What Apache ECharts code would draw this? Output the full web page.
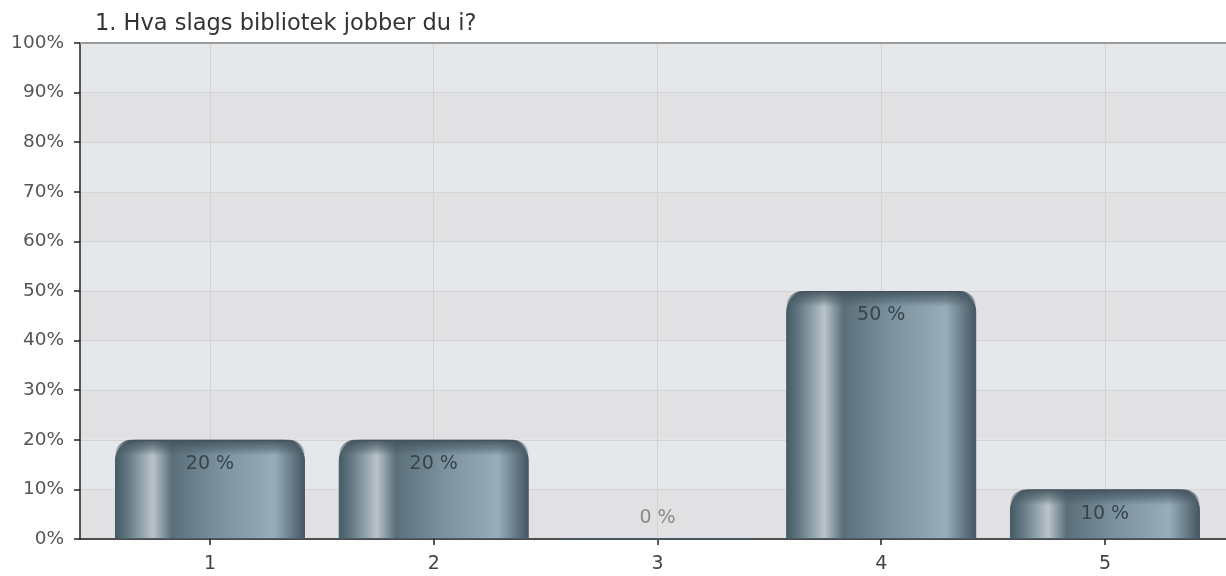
<!DOCTYPE html>
<html><head><meta charset="utf-8">
<script src="https://cdn.jsdelivr.net/npm/echarts@6/dist/echarts.min.js"></script>
<style>html,body{margin:0;padding:0;background:#fff}#c{width:1226px;height:576px}</style>
</head><body><div id="c"></div>
<script>
const title = '1. Hva slags bibliotek jobber du i?';
const categories = [1, 2, 3, 4, 5];
const values = [20, 20, 0, 50, 10];
const yTicks = [0, 10, 20, 30, 40, 50, 60, 70, 80, 90, 100];

const chart = echarts.init(document.getElementById('c'), null, {renderer: 'canvas'});
const font = 'DejaVu Sans, sans-serif';
const BAR_W = 190;
const barGrad = new echarts.graphic.LinearGradient(0, 0, 1, 0, [
  {offset: 0, color: '#465965'},
  {offset: 0.06, color: '#5f7580'},
  {offset: 0.2, color: '#b9c4c9'},
  {offset: 0.3, color: '#5a6f7a'},
  {offset: 0.55, color: '#7b929e'},
  {offset: 0.84, color: '#97adb9'},
  {offset: 0.95, color: '#5d717c'},
  {offset: 1, color: '#435560'}
]);
const seriesData = categories.map((c, i) => [c, values[i]]);
chart.setOption({
  animation: false,
  title: {text: title, left: 90, top: 8, textStyle: {fontFamily: font, fontSize: 22.5, fontWeight: 'normal', color: '#333'}},
  grid: {left: 80, right: 0, top: 43, bottom: 37, show: false},
  xAxis: {
    type: 'value', min: 0.419, max: 5.541,
    axisLine: {show: true, onZero: false, lineStyle: {color: '#222', width: 1.5}},
    axisTick: {show: true, customValues: categories, length: 6, lineStyle: {color: '#222', width: 1.5}},
    axisLabel: {show: true, customValues: categories, margin: 16, fontFamily: font, fontSize: 19, color: '#444'},
    splitLine: {show: false}
  },
  yAxis: {
    type: 'value', min: 0, max: 100, interval: 10,
    axisLine: {show: true, lineStyle: {color: '#222', width: 1.5}},
    axisTick: {show: true, length: 6, lineStyle: {color: '#222', width: 1.5}},
    axisLabel: {formatter: '{value}%', fontFamily: font, fontSize: 18.5, color: '#555', margin: 16},
    splitLine: {show: true, lineStyle: {color: '#d3d3d3', width: 1}},
    splitArea: {show: true, areaStyle: {color: ['#e1e1e3', '#e5e8eb']}}
  },
  series: [{
    type: 'line', data: [], z: 1,
    markLine: {
      z: 1,
      silent: true, symbol: 'none', label: {show: false},
      data: categories.map(c => ({xAxis: c, lineStyle: {color: '#d3d3d3', width: 1, type: 'solid'}}))
        .concat([{yAxis: 100, lineStyle: {color: '#9a9a9a', width: 2, type: 'solid'}}])
    }
  }, {
    type: 'bar',
    barWidth: BAR_W,
    barGap: '-100%',
    data: seriesData,
    itemStyle: {color: barGrad, borderRadius: [20, 20, 0, 0], borderColor: '#475a65', borderWidth: 1},
    z: 2
  }, {
    type: 'custom',
    data: seriesData,
    z: 3,
    silent: true,
    renderItem: function (params, api) {
      const v = api.value(1);
      if (!v) return null;
      const top = api.coord([api.value(0), v]);
      const base = api.coord([api.value(0), 0]);
      const h = Math.min(16, base[1] - top[1]);
      return {
        type: 'rect',
        shape: {x: top[0] - BAR_W / 2, y: top[1], width: BAR_W, height: h, r: [20, 20, 0, 0]},
        style: {fill: new echarts.graphic.LinearGradient(0, 0, 0, 1, [
          {offset: 0, color: 'rgba(62,79,89,0.9)'},
          {offset: 0.6, color: 'rgba(70,88,98,0.45)'},
          {offset: 1, color: 'rgba(80,98,108,0)'}
        ])}
      };
    }
  }, {
    type: 'bar',
    barWidth: BAR_W,
    barGap: '-100%',
    z: 4,
    silent: true,
    data: seriesData.map(d => {
      const o = {value: d};
      if (d[1] === 0) o.label = {position: 'top', distance: 11, color: '#8a8a8a'};
      return o;
    }),
    itemStyle: {color: 'rgba(0,0,0,0)'},
    label: {show: true, position: 'insideTop', distance: 15, fontFamily: font, fontSize: 19, color: '#3a444b',
      formatter: p => p.value[1] + ' %'}
  }]
});
</script></body></html>
